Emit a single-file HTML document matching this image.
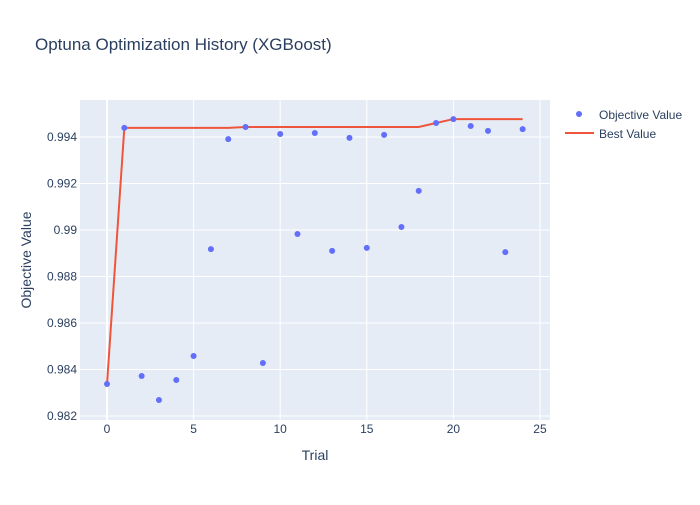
<!DOCTYPE html>
<html><head><meta charset="utf-8"><style>
body{margin:0;background:#fff;font-family:"Liberation Sans",Arial,sans-serif}
svg text{font-family:"Liberation Sans",Arial,sans-serif}
</style></head><body>
<svg id="chart" width="700" height="500">
<rect width="700" height="500" fill="#fff"/>
<text x="35" y="50" font-size="17" fill="#2a3f5f">Optuna Optimization History (XGBoost)</text>
<rect x="80" y="100" width="470" height="320" fill="#e5ecf6"/>
<g id="grid"></g><g id="ticks"></g><g id="marks"></g>
<text x="315" y="460" font-size="14" fill="#2a3f5f" text-anchor="middle">Trial</text>
<text transform="translate(31,260) rotate(-90)" font-size="14" fill="#2a3f5f" text-anchor="middle">Objective Value</text>
<g>
<circle cx="579" cy="114" r="3" fill="#636efa"/>
<text x="599" y="119" font-size="12" fill="#2a3f5f">Objective Value</text>
<line x1="565" y1="133" x2="594" y2="133" stroke="#ef553b" stroke-width="2"/>
<text x="599" y="138" font-size="12" fill="#2a3f5f">Best Value</text>
</g>
</svg>
<script>
const trials=[0,1,2,3,4,5,6,7,8,9,10,11,12,13,14,15,16,17,18,19,20,21,22,23,24];
const objectiveValues=[0.98338,0.99439,0.98372,0.98269,0.98355,0.98458,0.98918,0.99391,0.99443,0.98428,0.99413,0.98983,0.99417,0.98910,0.99396,0.98923,0.99409,0.99013,0.99168,0.99460,0.99477,0.99447,0.99426,0.98905,0.99434];
const xTicks=[0,5,10,15,20,25];
const yTicks=[0.982,0.984,0.986,0.988,0.99,0.992,0.994];
const yTickLabels=["0.982","0.984","0.986","0.988","0.99","0.992","0.994"];
const NS="http://www.w3.org/2000/svg";
const X0=80,X1=550,Y0=420,Y1=100,xMin=-1.56,xMax=25.58,yMin=0.98183,yMax=0.99559;
const sx=v=>X0+(v-xMin)/(xMax-xMin)*(X1-X0);
const sy=v=>Y0-(v-yMin)/(yMax-yMin)*(Y0-Y1);
function mk(tag,attrs,parent){const e=document.createElementNS(NS,tag);for(const k in attrs)e.setAttribute(k,attrs[k]);document.getElementById(parent).appendChild(e);return e;}
xTicks.forEach(t=>{
 const l=mk('line',{x1:sx(t),x2:sx(t),y1:Y1,y2:Y0,stroke:'#fff','stroke-width':t===0?2:1},'grid');
 
 
 const tx=mk('text',{x:sx(t),y:433,'font-size':12,fill:'#2a3f5f','text-anchor':'middle'},'ticks');
 tx.textContent=t;
 
 
});
yTicks.forEach((t,i)=>{
 const l=mk('line',{x1:X0,x2:X1,y1:sy(t),y2:sy(t),stroke:'#fff','stroke-width':1},'grid');
 
 
 const tx=mk('text',{x:77,y:sy(t)+4,'font-size':12,fill:'#2a3f5f','text-anchor':'end'},'ticks');
 tx.textContent=yTickLabels[i];
 
 
});
let best=-Infinity;const pts=[];
objectiveValues.forEach((v,i)=>{best=Math.max(best,v);pts.push(sx(trials[i])+','+sy(best));});
const line=mk('polyline',{points:pts.join(' '),fill:'none',stroke:'#ef553b','stroke-width':2},'marks');


objectiveValues.forEach((v,i)=>{
 const c=mk('circle',{cx:sx(trials[i]),cy:sy(v),r:3,fill:'#636efa'},'marks');
 
 
});
</script>
</body></html>
